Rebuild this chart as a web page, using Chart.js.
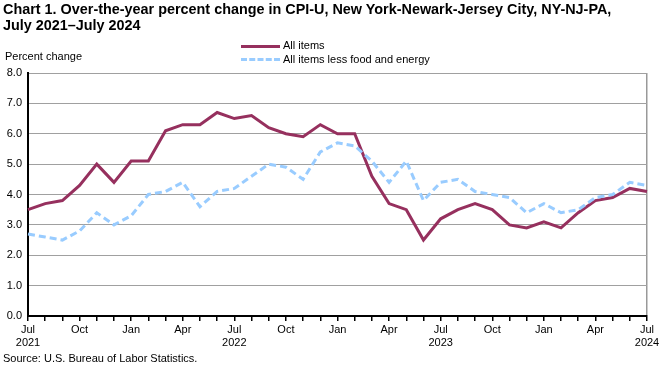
<!DOCTYPE html>
<html><head><meta charset="utf-8">
<script src="https://cdn.jsdelivr.net/npm/chart.js@4.4.0/dist/chart.umd.min.js"></script>
<style>
html,body{margin:0;padding:0;background:#fff;}
#wrap{position:relative;width:666px;height:367px;overflow:hidden;font-family:"Liberation Sans",Arial,sans-serif;color:#000;}
canvas{position:absolute;left:0;top:0;}
.t{position:absolute;white-space:nowrap;}
#title{left:3px;top:1px;font-weight:bold;font-size:14.4px;line-height:16px;}
#ylab{left:5px;top:50px;font-size:11px;}
#src{left:3px;top:352px;font-size:11px;}
.leg{position:absolute;font-size:11px;left:283px;}
.sw{position:absolute;left:241px;width:39px;height:0;}
</style></head>
<body><div id="wrap">
<canvas id="c" width="666" height="367"></canvas>
<div class="t" id="title">Chart 1. Over-the-year percent change in CPI-U, New York-Newark-Jersey City, NY-NJ-PA,<br>July 2021–July 2024</div>
<div class="t" id="ylab">Percent change</div>
<div class="sw" style="top:45px;border-top:3px solid #96305E;"></div>
<div class="leg" style="top:39px;">All items</div>
<div class="sw" style="top:58px;border-top:3px dashed #99CCFF;"></div>
<div class="leg" style="top:53px;">All items less food and energy</div>
<div class="t" id="src">Source: U.S. Bureau of Labor Statistics.</div>
</div>
<script>
const months = ["Jul","Aug","Sep","Oct","Nov","Dec","Jan","Feb","Mar","Apr","May","Jun"];
const categories = [];
for (let i = 0; i < 37; i++) {
  const m = months[i % 12];
  const y = 2021 + Math.floor((i + 6) / 12);
  categories.push(m + " " + y);
}
const allItems = [3.5,3.7,3.8,4.3,5.0,4.4,5.1,5.1,6.1,6.3,6.3,6.7,6.5,6.6,6.2,6.0,5.9,6.3,6.0,6.0,4.6,3.7,3.5,2.5,3.2,3.5,3.7,3.5,3.0,2.9,3.1,2.9,3.4,3.8,3.9,4.2,4.1];
const core = [2.7,2.6,2.5,2.8,3.4,3.0,3.3,4.0,4.1,4.4,3.6,4.1,4.2,4.6,5.0,4.9,4.5,5.4,5.7,5.6,5.1,4.4,5.1,3.8,4.4,4.5,4.1,4.0,3.9,3.4,3.7,3.4,3.5,3.9,4.0,4.4,4.3];
const seriesNames = ["All items","All items less food and energy"];

Chart.defaults.font.family = '"Liberation Sans", Arial, sans-serif';
Chart.defaults.font.size = 11;
Chart.defaults.color = '#000';

new Chart(document.getElementById('c'), {
  type: 'line',
  data: {
    labels: categories,
    datasets: [
      {label: seriesNames[1], data: core, borderColor: '#99CCFF', borderWidth: 3, borderDash: [7,4], pointRadius: 0, tension: 0, fill: false},
      {label: seriesNames[0], data: allItems, borderColor: '#96305E', borderWidth: 3, pointRadius: 0, tension: 0, fill: false}
    ]
  },
  options: {
    responsive: false,
    animation: false,
    events: [],
    layout: {padding: {left: 0, right: 19, top: 73, bottom: 0}},
    plugins: {legend: {display: false}, tooltip: {enabled: false}},
    scales: {
      x: {
        type: 'category',
        offset: false,
        border: {display: true, color: '#000', width: 2},
        grid: {
          drawOnChartArea: true,
          color: (ctx) => (ctx.index === 36 ? '#999' : 'rgba(0,0,0,0)'),
          tickColor: '#000',
          tickLength: 5,
          lineWidth: 1.5
        },
        ticks: {
          autoSkip: false,
          maxRotation: 0,
          padding: 2,
          font: {size: 11},
          callback: function(v, i) {
            if (i % 3 !== 0) return '';
            const c = categories[i].split(' ');
            return c[0] === 'Jul' ? [c[0], c[1]] : c[0];
          }
        },
        afterFit: (s) => { s.height = 51; }
      },
      y: {
        min: 0, max: 8,
        border: {display: true, color: '#000', width: 2},
        grid: {color: '#A0A0A0', lineWidth: 1, drawTicks: false},
        ticks: {stepSize: 1, padding: 6, font: {size: 11}, callback: (v) => v.toFixed(1)},
        afterFit: (s) => { s.width = 28; }
      }
    }
  }
});
</script>
</body></html>
